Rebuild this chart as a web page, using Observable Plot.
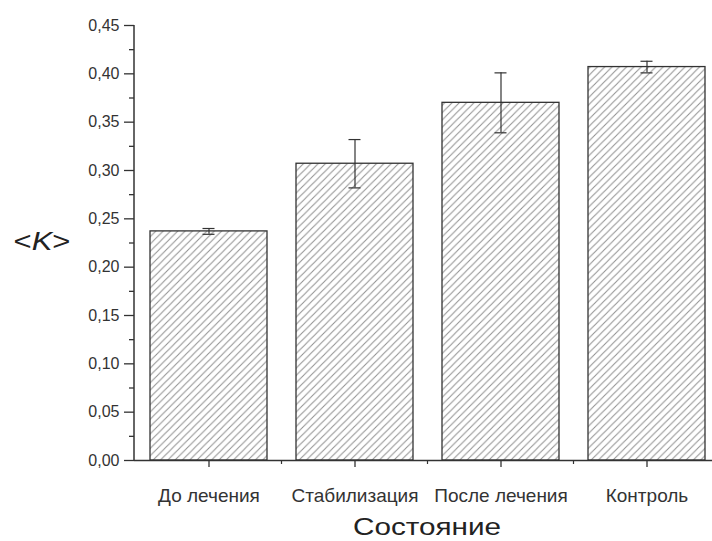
<!DOCTYPE html>
<html>
<head>
<meta charset="utf-8">
<script src="https://cdn.jsdelivr.net/npm/d3@7"></script>
<script src="https://cdn.jsdelivr.net/npm/@observablehq/plot@0.6"></script>
<style>
  html, body { margin: 0; padding: 0; background: #fff; }
  #chart svg { display: block; }
</style>
</head>
<body>
<div id="chart"></div>
<script>
// ---- data ----
const categories = ["До лечения", "Стабилизация", "После лечения", "Контроль"];
const values = [0.237, 0.307, 0.370, 0.407];
const errors = [0.003, 0.025, 0.031, 0.006];
const yTicks = [0, 0.05, 0.10, 0.15, 0.20, 0.25, 0.30, 0.35, 0.40, 0.45];
const yMinorTicks = [0.025, 0.075, 0.125, 0.175, 0.225, 0.275, 0.325, 0.375, 0.425];
const xTitle = "Состояние";
const yTitleParts = ["<", "K", ">"];

const data = categories.map((c, i) => ({
  state: c, k: values[i], lo: values[i] - errors[i], hi: values[i] + errors[i]
}));

const ink = "#333";
const font = "'Liberation Sans', Arial, sans-serif";
const fmt = d => d.toFixed(2).replace(".", ",");

const plot = Plot.plot({
  width: 712,
  height: 541,
  marginLeft: 134,
  marginRight: 0,
  marginTop: 25,
  marginBottom: 81,
  style: { fontFamily: font, background: "#fff", color: ink },
  x: { type: "band", domain: categories, range: [134, 720], paddingInner: 0.2, paddingOuter: 0.1 },
  y: { domain: [0, 0.45] },
  marks: [
    Plot.barY(data, { x: "state", y: "k", fill: "white", stroke: ink, strokeWidth: 1.3 }),
    Plot.ruleX(data, { x: "state", y1: "lo", y2: "hi", stroke: ink, strokeWidth: 1.2 }),
    Plot.tickY(data, { x: "state", y: "lo", stroke: ink, strokeWidth: 1.2, insetLeft: 52.5, insetRight: 52.5 }),
    Plot.tickY(data, { x: "state", y: "hi", stroke: ink, strokeWidth: 1.2, insetLeft: 52.5, insetRight: 52.5 }),
    Plot.ruleY([0], { stroke: ink, strokeWidth: 1.5 }),
    Plot.axisY(yMinorTicks, { tickSize: 5, tickFormat: () => "", stroke: ink, strokeWidth: 1.3, strokeOpacity: 1, label: null }),
    Plot.axisY(yTicks, { tickSize: 10, tickPadding: 5, tickFormat: fmt, stroke: ink, fill: ink, strokeWidth: 1.3, strokeOpacity: 1, label: null }),
    Plot.axisX({ tickSize: 7, tickPadding: 21, stroke: ink, fill: ink, strokeWidth: 1.3, strokeOpacity: 1, label: null })
  ]
});

const svg = d3.select(plot);
const xs = plot.scale("x");
const ys = plot.scale("y");

// hatch pattern
const defs = svg.insert("defs", ":first-child");
const s = 7.3;
const pat = defs.append("pattern")
  .attr("id", "hatch").attr("patternUnits", "userSpaceOnUse")
  .attr("width", s).attr("height", s);
pat.append("rect").attr("width", s).attr("height", s).attr("fill", "#fff");
pat.append("path")
  .attr("d", `M0,${s} L${s},0 M${-s/2},${s/2} L${s/2},${-s/2} M${s/2},${s*1.5} L${s*1.5},${s/2}`)
  .attr("stroke", "#909090").attr("stroke-width", 1);
svg.select('g[aria-label="bar"]').attr("fill", "url(#hatch)");

// tick label fonts
svg.selectAll('g[aria-label="y-axis tick label"]').attr("font-size", 16).attr("fill", ink);
svg.selectAll('g[aria-label="x-axis tick label"]').attr("font-size", 19).attr("fill", ink);

// y axis line and minor x ticks
const y0 = ys.apply(0), yTop = ys.apply(0.45);
const g = svg.append("g").attr("stroke", ink);
g.append("line").attr("x1", 134).attr("x2", 134).attr("y1", yTop).attr("y2", y0).attr("stroke-width", 1.5);
const gap = (xs.step - xs.bandwidth) / 2;
categories.slice(1).forEach(c => {
  const bx = xs.apply(c) - gap;
  g.append("line").attr("x1", bx).attr("x2", bx).attr("y1", y0).attr("y2", y0 + 4).attr("stroke-width", 1.2);
});

// titles
const xCenter = (xs.range[0] + xs.range[1]) / 2;
svg.append("text")
  .attr("transform", `translate(${xCenter},535) scale(1.29,1)`)
  .attr("text-anchor", "middle").attr("font-size", 23).attr("fill", "#222")
  .attr("font-family", font).text(xTitle);

const yt = svg.append("text")
  .attr("transform", `translate(42,250) scale(1.24,1)`)
  .attr("text-anchor", "middle").attr("font-size", 25).attr("fill", "#222")
  .attr("font-family", font);
yTitleParts.forEach((p, i) => {
  const t = yt.append("tspan").text(p);
  if (i === 1) t.attr("font-style", "italic");
});

document.getElementById("chart").appendChild(plot);
</script>
</body>
</html>
